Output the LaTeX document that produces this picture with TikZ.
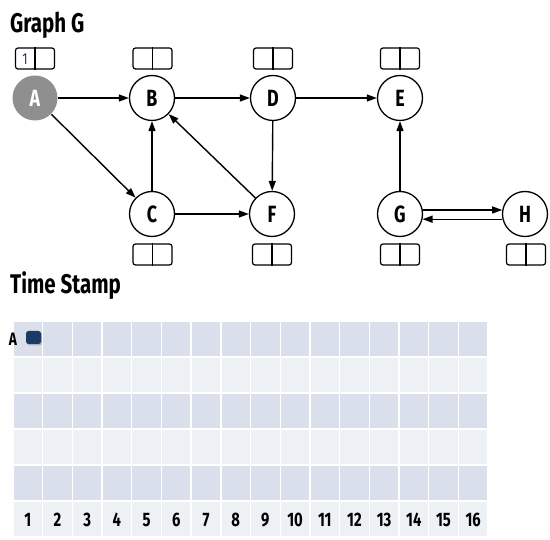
\documentclass[tikz,border=0pt]{standalone}
\usepackage{fontspec}
\setmainfont{Fira Sans}[FakeStretch=0.76]
\usetikzlibrary{arrows.meta,shadows,calc}
\definecolor{rowdark}{HTML}{D9E0EB}
\definecolor{rowlight}{HTML}{EDF0F5}
\definecolor{navy}{HTML}{1B3A66}
\definecolor{agray}{HTML}{8F8F8F}
\tikzset{
  vert/.style={circle,draw=black,line width=1.3pt,fill=white,minimum size=45pt,inner sep=0pt,
    font=\fontsize{23.5}{23.5}\selectfont\bfseries},
  visited/.style={vert,draw=none,fill=agray,text=white},
  tbox/.style={draw=black,line width=1.2pt,rounded corners=2.5pt,minimum width=39pt,minimum height=21pt,inner sep=0pt},
  edge/.style={line width=1.4pt,-{Triangle[length=10pt,width=7pt]}},
  title/.style={anchor=west,inner sep=0pt,font=\fontsize{27}{27}\selectfont\bfseries},
  num/.style={inner sep=0pt,font=\fontsize{19.5}{19.5}\selectfont\bfseries},
}
\begin{document}
\begin{tikzpicture}[x=1pt,y=-1pt]
\useasboundingbox (0,0) rectangle (550,540);
% titles
\node[title] (t1) at (10,25) {Graph G};
\node[title] (t2) at (10,286) {Time Stamp};
% vertices
\node[visited] (A) at (35,98) {A};
\node[vert] (B) at (152,98) {B};
\node[vert] (D) at (273,98) {D};
\node[vert] (E) at (400,98) {E};
\node[vert] (C) at (152,214) {C};
\node[vert] (F) at (272,214) {F};
\node[vert] (G) at (400,214) {G};
\node[vert] (H) at (525,214) {H};
% boxes
\foreach \n/\x/\y in {A/35/58.5,B/152.5/58.5,D/273/58.5,E/400/58.5,C/152.5/254.5,F/272/254.5,G/400/254.5,H/526/254.5}{
  \node[tbox] (b\n) at (\x,\y) {};
  \draw[line width=1.2pt] (b\n.north) -- (b\n.south);
}
\node[inner sep=0pt,text=navy,font=\fontsize{16}{16}\selectfont] (d1) at ($(bA.center)+(-10,0.5)$) {1};
% edges
\draw[edge] (A) -- (B);
\draw[edge] (A) -- (C);
\draw[edge] (C) -- (B);
\draw[edge] (C) -- (F);
\draw[edge] (F) -- (B);
\draw[edge] (B) -- (D);
\draw[edge] (D) -- (F);
\draw[edge] (D) -- (E);
\draw[edge] (G) -- (E);
\draw[edge] (G.10) -- (H.170);
\draw[edge] (H.-167) -- (G.-13);
% grid
\foreach \j in {1,...,6}{
  \pgfmathsetmacro{\top}{321+(\j-1)*36}
  \ifodd\j \def\rc{rowdark}\else\def\rc{rowlight}\fi
  \foreach \i in {1,...,16}{
    \pgfmathsetmacro{\lft}{13+(\i-1)*29.69}
    \fill[\rc,draw=white,line width=1.4pt] (\lft,\top) rectangle ++(29.69,36);
  }
}
\foreach \i in {1,...,16}{
  \node[num] (n\i) at ({13+(\i-0.5)*29.69},520) {\i};
}
\node[inner sep=0pt,font=\fontsize{18}{18}\selectfont\bfseries] (la) at (13,339) {A};
\node[fill=navy,rounded corners=2.5pt,minimum width=15pt,minimum height=13pt,inner sep=0pt,
  drop shadow={opacity=0.45,shadow xshift=1pt,shadow yshift=-1.5pt}] (mA) at (33.5,337.5) {};
\end{tikzpicture}
\end{document}
